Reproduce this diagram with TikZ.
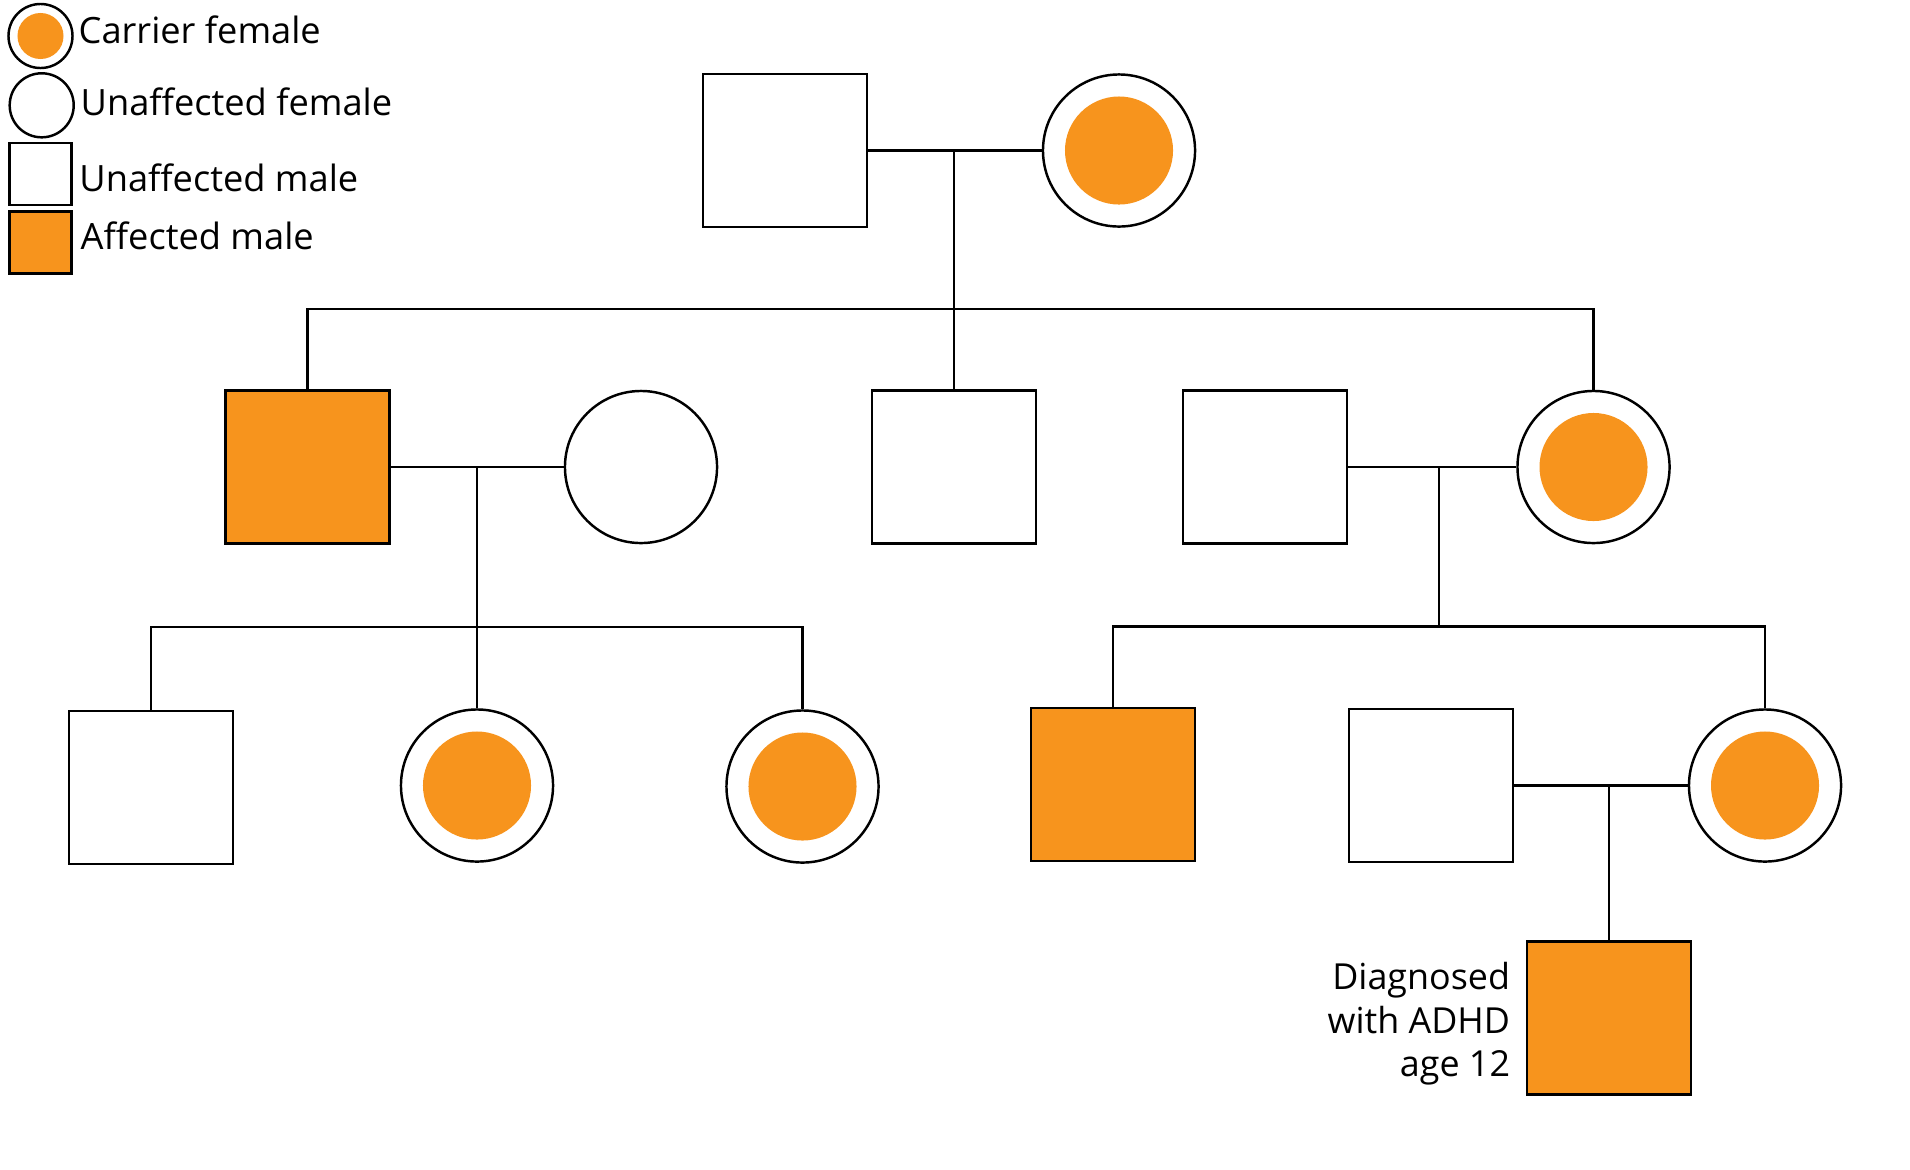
\documentclass[tikz,border=0pt]{standalone}
\usepackage{fontspec}
\setmainfont{Open Sans}
\usetikzlibrary{positioning, calc}
\usepackage{xcolor}
\definecolor{adhdorange}{RGB}{247,148,29}

\tikzset{
  malebox/.style={draw, rectangle, line width=0.7pt, minimum width=1.64cm, minimum height=1.53cm, inner sep=0pt},
  affected/.style={malebox, fill=adhdorange},
  femalebox/.style={draw, circle, line width=0.7pt, minimum size=1.52cm, inner sep=0pt},
  carrier/.style={femalebox, path picture={\fill[adhdorange] (path picture bounding box.center) circle (#1);}},
  carrier/.default=0.54cm,
  link/.style={line width=0.6pt},
  keytext/.style={anchor=base west, inner sep=0pt, font=\fontsize{10.3}{12.4}\selectfont},
}

\begin{document}
\begin{tikzpicture}[x=0.01cm, y=-0.01cm]
\useasboundingbox (0,0) rectangle (1910,1169);

%key
\node [carrier=0.23cm, minimum size=0.64cm] (kcarrier) at (40.5,36) {};
\node [femalebox, minimum size=0.64cm] (kfemale) at (41.7,105.3) {};
\node [malebox, minimum width=0.62cm, minimum height=0.62cm] (kmale) at (40.3,174) {};
\node [affected, minimum width=0.62cm, minimum height=0.62cm] (kaffected) at (40.3,242.5) {};
\node [keytext] at (78,43.3) {Carrier female};
\node [keytext] at (80,115.7) {Unaffected female};
\node [keytext] at (78.7,191) {Unaffected male};
\node [keytext] at (80,249.3) {Affected male};

%grandparents
\node [malebox] (gpa) at (785,150.5) {};
\node [carrier] (gma) at (1119,150.5) {};

%children
\node [affected] (son1) at (307.5,467) {};
\node [femalebox] (wife1) at (641,467) {};
\node [malebox] (son2) at (954,467) {};
\node [malebox] (husb1) at (1265,467) {};
\node [carrier] (daug1) at (1593.5,467) {};

%grandchildren
\node [malebox] (gson1) at (151,787.5) {};
\node [carrier] (gdaug1) at (477,785.5) {};
\node [carrier] (gdaug2) at (802.5,786.5) {};
\node [affected] (gson2) at (1113,784.5) {};
\node [malebox] (husb2) at (1431,785.5) {};
\node [carrier] (gdaug3) at (1765,785.5) {};

%great grandchild
\node [affected] (ggson) at (1609,1018) {};
\node [left=0.15cm of ggson, align=right, inner sep=0pt, font=\fontsize{10.2}{12.4}\selectfont, yshift=-0.06cm] (diag) {Diagnosed\\with ADHD\\age 12};

%lines
\coordinate (sib1) at (954,309);
\coordinate (sib2) at (477,627);
\coordinate (sib3) at (1439,626.5);

\draw [link] (gpa.east) -- (gma.west);
\draw [link] (son2.north |- gpa.east) -- (son2.north);
\draw [link] (son1.north) |- (sib1) -| (daug1.north);

\draw [link] (son1.east) -- (wife1.west);
\draw [link] (gdaug1.north |- son1.east) -- (gdaug1.north);
\draw [link] (gson1.north) |- (sib2) -| (gdaug2.north);

\draw [link] (husb1.east) -- (daug1.west);
\draw [link] (sib3 |- daug1.west) -- (sib3);
\draw [link] (gson2.north) |- (sib3) -| (gdaug3.north);

\draw [link] (husb2.east) -- (gdaug3.west);
\draw [link] (ggson.north |- husb2.east) -- (ggson.north);

\end{tikzpicture}
\end{document}
